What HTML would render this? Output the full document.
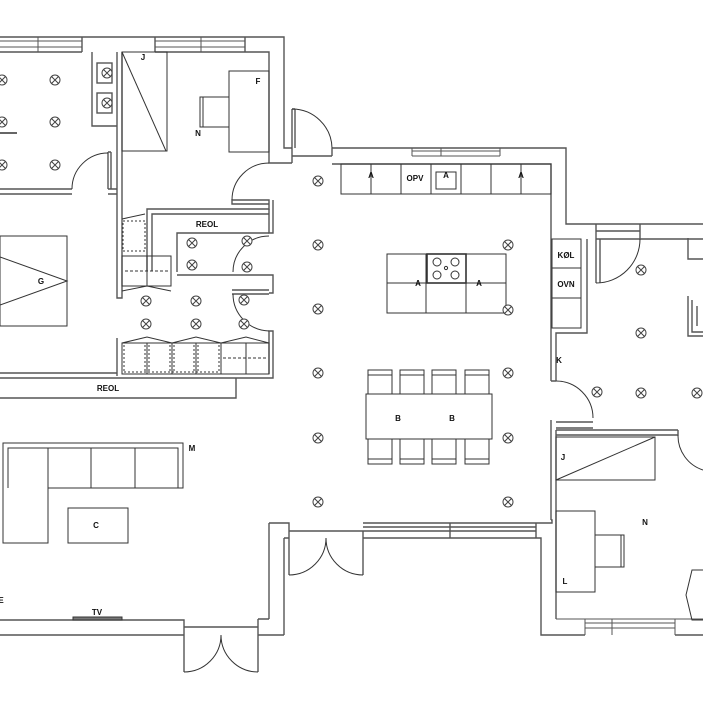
<!DOCTYPE html>
<html><head><meta charset="utf-8"><style>
html,body{margin:0;padding:0;background:#fff;width:703px;height:703px;overflow:hidden}
svg{display:block}
text{font-family:"Liberation Sans",sans-serif;font-weight:bold;font-size:8px;fill:#111;text-anchor:middle}
</style></head><body>
<svg width="703" height="703" viewBox="0 0 703 703" xmlns="http://www.w3.org/2000/svg">
<defs>
<g id="L"><circle r="5" fill="#fff" stroke="#444" stroke-width="1"/><path d="M-3.5-3.5L3.5 3.5M3.5-3.5L-3.5 3.5" stroke="#444" stroke-width="1"/></g>
</defs>
<g fill="none" stroke="#555" stroke-width="1.4">
<!-- top-left outer walls -->
<path d="M0 37H284V148H292"/>
<path d="M0 52H82M155 52H269V163H292"/>
<path d="M82 37V52M155 37V52M245 37V52"/>
<!-- windows top left -->
<path d="M0 41H82M0 47H82M155 41H245M155 47H245" stroke-width="1"/>
<path d="M38 37V52M201 37V52" stroke-width="1"/>
<!-- interior wall x117-122 -->
<path d="M117 52V298H122V52"/>
<path d="M0 189H72M0 194H72M108 189H117M108 194H117"/>
<path d="M108 152V189M111 152V189M108 152H111"/>
<path d="M92 52V126H117M92 126"/>
<rect x="97" y="63" width="15" height="20"/><rect x="97" y="93" width="15" height="20"/>
<path d="M0 133H17" stroke="#333"/>
<!-- top door to kitchen -->
<path d="M292 109V148M295 109V148M292 109H295"/>
<path d="M292 156H332M292 148V163"/>
<!-- kitchen walls -->
<path d="M332 148H566V224H703"/>
<path d="M332 156V148M332 164H551V328"/>
<path d="M412 151H500M412 156H500M412 148V156M500 148V156M441 148V156" stroke-width="1"/>
<path d="M596 239H703M596 224V239M640 224V239M596 231H640"/>
<path d="M587 239V333H556V381"/>
<path d="M596 239V283M600 239V283"/>
<path d="M551 328V381"/>
<path d="M551 381H556M551 420V520M556 430V619"/>
<path d="M556 422H593M556 428H593"/>
<path d="M556 430H678M556 435H678V430"/>
<!-- right room items -->
<path d="M688 238V259H703M688 296V336H703M692 300V332H703M697 306V326"/>
<!-- kitchen bottom wall -->
<path d="M269 523V619M284 538V635"/>
<path d="M269 523H289V538H284M289 531H363M289 538V575M363 531V575"/>
<path d="M363 523H552V520H551M363 538H541V635H585M675 635H703"/>
<path d="M363 531H536M363 527H536M450 523V538M536 523V538"/>
<!-- bottom left wall -->
<path d="M0 620H184V672M0 635H184M184 627H258M258 619V672M258 619H269M258 635H284"/>
<!-- bottom right -->
<path d="M556 619H703M585 619V635M675 619V635M585 623H675M585 628H675M612 619V635" stroke-width="1"/>
<!-- left room bottom / REOL -->
<path d="M0 373H117M0 378H273V331H269V374"/>
<path d="M0 398H236V378"/>
<!-- hall REOL block -->
<path d="M147 271V209H269V200H232V204H269"/>
<path d="M152 271V214H269M177 272V233H269M177 275H269"/>
<path d="M269 209V233H273V200"/>
<path d="M269 275H273V293H269M232 290H269M232 294H269"/>
<path d="M117 338V376"/>
</g>
<g fill="none" stroke="#333" stroke-width="1">
<!-- door arcs -->
<path d="M72 189A36 36 0 0 1 108 153"/>
<path d="M332 148A40 40 0 0 0 292 109"/>
<path d="M232 200A37 37 0 0 1 269 163"/>
<path d="M233 272A36 36 0 0 1 269 236"/>
<path d="M233 294A37 37 0 0 0 269 331"/>
<path d="M596 283A44 44 0 0 0 640 239"/>
<path d="M556 381A37 37 0 0 1 593 418"/>
<path d="M678 435A36 36 0 0 0 703 470"/>
<path d="M289 575A37 37 0 0 0 326 538M363 575A37 37 0 0 1 326 538"/>
<path d="M184 672A37 37 0 0 0 221 635M258 672A37 37 0 0 1 221 635"/>
<!-- left room furniture -->
<rect x="0" y="236" width="67" height="90"/>
<path d="M0 257L67 281L0 305"/>
<rect x="122" y="52" width="45" height="99"/><path d="M122 52L166 151"/>
<rect x="229" y="71" width="40" height="81"/>
<rect x="200" y="97" width="29" height="30"/><path d="M203 97V127"/>
<!-- hall cabinets -->
<rect x="122" y="256" width="49" height="30"/><path d="M147 256V286M122 291L147 286L171 291" />
<path d="M125 271H168" stroke-dasharray="3 2"/>
<rect x="123" y="221" width="22" height="30" stroke-dasharray="2 2"/><path d="M122 219L145 214"/>
<rect x="122" y="343" width="147" height="31"/>
<path d="M147 343V374M172 343V374M196 343V374M221 343V374M246 343V374"/>
<path d="M124 345V372M145 345V372M149 345V372M170 345V372M174 345V372M194 345V372M198 345V372M219 345V372M124 372H219" stroke-dasharray="2 2"/>
<path d="M122 343L147 337L172 343L196 337L221 343L246 337L269 343"/>
<path d="M223 358H266" stroke-dasharray="3 2"/>
<!-- kitchen -->
<rect x="341" y="164" width="210" height="30"/>
<path d="M371 164V194M401 164V194M431 164V194M461 164V194M491 164V194M521 164V194"/>
<rect x="436" y="172" width="20" height="17"/>
<path d="M371 178V172M521 178V172"/>
<rect x="387" y="254" width="119" height="59"/>
<path d="M387 283H506M426 254V313M466 254V313"/>
<rect x="427" y="254" width="39" height="29" stroke-width="1.6"/>
<circle cx="437" cy="262" r="4"/><circle cx="455" cy="262" r="4"/><circle cx="437" cy="275" r="4"/><circle cx="455" cy="275" r="4"/><circle cx="446" cy="268" r="1.6"/>
<rect x="552" y="239" width="29" height="89"/><path d="M552 268H581M552 298H581"/>
<rect x="366" y="394" width="126" height="45"/>
<g id="ch"><rect x="368" y="370" width="24" height="24"/><path d="M368 375H392"/></g>
<use href="#ch" x="32"/><use href="#ch" x="64"/><use href="#ch" x="97"/>
<g id="cb"><rect x="368" y="439" width="24" height="25"/><path d="M368 459H392"/></g>
<use href="#cb" x="32"/><use href="#cb" x="64"/><use href="#cb" x="97"/>
<!-- living -->
<path d="M3 443H183V488H48V543H3Z"/>
<path d="M8 488V448H178V488M48 448V488M91 448V488M135 448V488"/>
<rect x="68" y="508" width="60" height="35"/>
<rect x="73" y="617" width="49" height="3" fill="#777"/>
<!-- bedroom right -->
<rect x="556" y="437" width="99" height="43"/><path d="M556 480L655 437"/>
<rect x="556" y="511" width="39" height="81"/>
<rect x="595" y="535" width="29" height="32"/><path d="M621 535V567"/>
<path d="M703 570H692L686 595L692 620H703"/>
</g>
<!-- lights -->
<g>
<use href="#L" x="2" y="80"/><use href="#L" x="55" y="80"/><use href="#L" x="2" y="122"/><use href="#L" x="55" y="122"/><use href="#L" x="2" y="165"/><use href="#L" x="55" y="165"/>
<use href="#L" x="107" y="73"/><use href="#L" x="107" y="103"/>
<use href="#L" x="192" y="243"/><use href="#L" x="247" y="241"/><use href="#L" x="192" y="265"/><use href="#L" x="247" y="267"/>
<use href="#L" x="146" y="301"/><use href="#L" x="196" y="301"/><use href="#L" x="244" y="300"/>
<use href="#L" x="146" y="324"/><use href="#L" x="196" y="324"/><use href="#L" x="244" y="324"/>
<use href="#L" x="318" y="181"/><use href="#L" x="318" y="245"/><use href="#L" x="318" y="309"/><use href="#L" x="318" y="373"/><use href="#L" x="318" y="438"/><use href="#L" x="318" y="502"/>
<use href="#L" x="508" y="245"/><use href="#L" x="508" y="310"/><use href="#L" x="508" y="373"/><use href="#L" x="508" y="438"/><use href="#L" x="508" y="502"/>
<use href="#L" x="641" y="270"/><use href="#L" x="641" y="333"/><use href="#L" x="597" y="392"/><use href="#L" x="641" y="393"/><use href="#L" x="697" y="393"/>
</g>
<text x="143" y="60">J</text><text x="258" y="84">F</text><text x="198" y="136">N</text>
<text x="41" y="284">G</text><text x="207" y="227">REOL</text><text x="108" y="391">REOL</text>
<text x="415" y="181">OPV</text><text x="446" y="178">A</text><text x="371" y="178">A</text><text x="521" y="178">A</text>
<text x="418" y="286">A</text><text x="479" y="286">A</text>
<text x="566" y="258">KØL</text><text x="566" y="287">OVN</text><text x="559" y="363">K</text>
<text x="398" y="421">B</text><text x="452" y="421">B</text>
<text x="192" y="451">M</text><text x="96" y="528">C</text><text x="97" y="615">TV</text><text x="1" y="603">E</text>
<text x="563" y="460">J</text><text x="645" y="525">N</text><text x="565" y="584">L</text>
</svg>
</body></html>
